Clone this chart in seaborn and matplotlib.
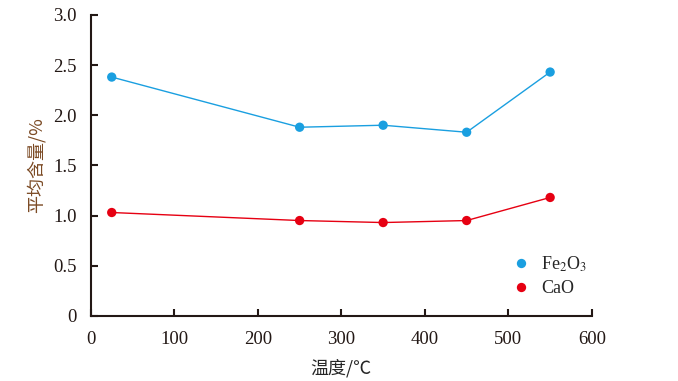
import pandas as pd
import matplotlib
matplotlib.use("Agg")
import matplotlib.pyplot as plt
import seaborn as sns

temps = [25, 250, 350, 450, 550]
fe2o3 = [2.38, 1.88, 1.90, 1.83, 2.43]
cao = [1.03, 0.95, 0.93, 0.95, 1.18]
labels = ["Fe$_2$O$_3$", "CaO"]
colors = ["#1a9fe0", "#e60012"]

df = pd.DataFrame({
    "temp": temps * 2,
    "value": fe2o3 + cao,
    "oxide": [labels[0]] * len(temps) + [labels[1]] * len(temps),
})

sns.set_style("ticks")
plt.rcParams["font.family"] = ["Liberation Serif", "Noto Sans CJK SC"]
plt.rcParams["mathtext.fontset"] = "stix"

fig = plt.figure(figsize=(6.78, 3.81), dpi=100)
ax = fig.add_axes([0.134, 0.171, 0.739, 0.79])
palette = dict(zip(labels, colors))
sns.lineplot(data=df, x="temp", y="value", hue="oxide", palette=palette,
             linewidth=1.0, legend=False, ax=ax)
sns.scatterplot(data=df, x="temp", y="value", hue="oxide", palette=palette,
                s=45, edgecolor="none", ax=ax, zorder=3)

ax.set_xlim(0, 600)
ax.set_ylim(0, 3.0)
ax.set_xticks(range(0, 601, 100))
ax.set_yticks([0, 0.5, 1.0, 1.5, 2.0, 2.5, 3.0])
ax.set_yticklabels(["0", "0.5", "1.0", "1.5", "2.0", "2.5", "3.0"])
ax.tick_params(direction="in", length=5, width=1.5, labelsize=13.5, colors="#231815")
ax.tick_params(axis="x", pad=11)
ax.tick_params(axis="y", pad=10)
for s in ["left", "bottom"]:
    ax.spines[s].set_linewidth(1.5)
    ax.spines[s].set_color("#231815")
sns.despine(ax=ax)

ax.set_xlabel("温度/℃", fontsize=13, family=["Noto Sans CJK SC", "DejaVu Sans"], labelpad=8)
ax.set_ylabel("平均含量/%", fontsize=13, color="#7b4a24",
              family=["Noto Sans CJK SC", "DejaVu Sans"], labelpad=6)

ax.legend(loc="upper left", bbox_to_anchor=(0.79, 0.258), frameon=False,
          fontsize=13, handletextpad=0.1, labelspacing=0.35, markerscale=1.0)

fig.savefig("out.png", dpi=100)
